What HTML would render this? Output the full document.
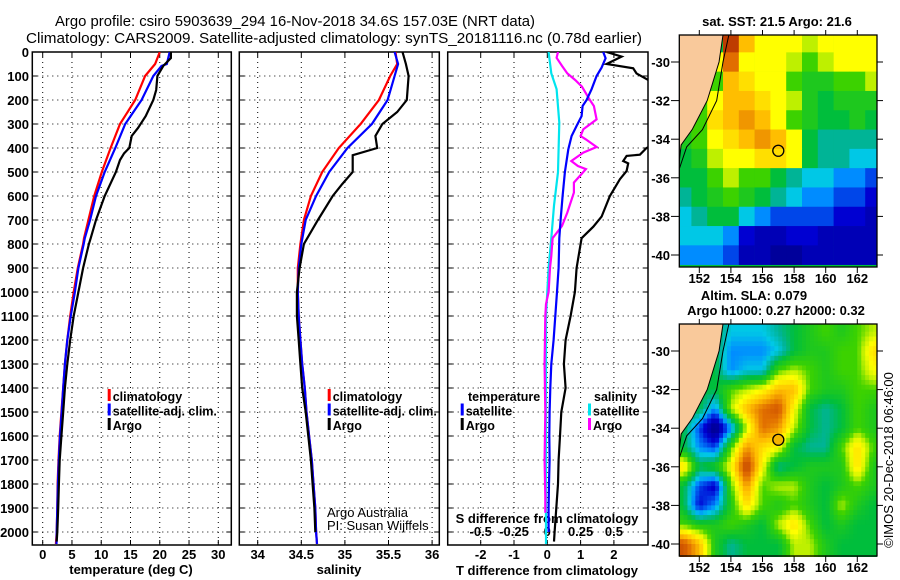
<!DOCTYPE html>
<html><head><meta charset="utf-8"><style>
html,body{margin:0;padding:0;background:#fff;}
svg{display:block;font-family:"Liberation Sans",sans-serif;}
.b{font-weight:bold;font-size:13px;}
.l{font-weight:bold;font-size:12.5px;}
</style></head><body>
<svg id="s" width="900" height="580" viewBox="0 0 900 580" xmlns="http://www.w3.org/2000/svg">
<defs>
<clipPath id="c1"><rect x="32.3" y="52" width="199" height="493"/></clipPath>
<clipPath id="c2"><rect x="239.3" y="52" width="200" height="493"/></clipPath>
<clipPath id="c3"><rect x="447.7" y="52" width="200.3" height="493"/></clipPath>
<clipPath id="cm1"><rect x="679.3" y="35" width="197.7" height="232"/></clipPath>
<clipPath id="cm2"><rect x="679.3" y="324" width="197.7" height="233"/></clipPath>
</defs>
<text x="295" y="26" font-size="15" text-anchor="middle" textLength="480" lengthAdjust="spacingAndGlyphs">Argo profile: csiro 5903639_294 16-Nov-2018 34.6S 157.03E (NRT data)</text>
<text x="334" y="43" font-size="15" text-anchor="middle" textLength="616" lengthAdjust="spacingAndGlyphs">Climatology: CARS2009. Satellite-adjusted climatology: synTS_20181116.nc (0.78d earlier)</text>
<g id="g"></g>
</svg>
<script>
// ---- profile data (depth in m) ----
const tDepthA=[0,25,58,100,158,200,267,316,350,400,422,450,500,600,700,776,800,900,1000,1100,1200,1300,1400,1500,1600,1700,1800,1900,2000,2040];
const tArgo=[21.9,21.9,20.6,19.6,19.4,18.9,17.6,16.3,15.2,14.8,13.9,13.2,12.5,10.6,9.1,8.2,7.9,6.9,6.1,5.3,4.7,4.2,3.8,3.5,3.2,2.9,2.76,2.65,2.5,2.4];
const tDepthC=[0,50,100,200,300,400,500,600,700,776,800,900,1000,1100,1200,1300,1400,1500,1600,1700,1800,1900,2000,2050];
const tClim=[20.0,19.2,17.5,15.8,13.2,11.6,10.1,8.8,7.8,7.05,6.9,6.0,5.3,4.7,4.2,3.8,3.5,3.2,2.9,2.7,2.55,2.5,2.4,2.25];
const tDepthS=[0,50,58,100,200,300,400,500,600,700,776,800,900,1000,1100,1200,1300,1400,1500,1600,1700,1800,1900,2000,2050];
const tSat=[21.7,21.2,20.3,18.9,16.9,14.1,12.4,10.6,9.1,8.1,7.2,7.0,6.1,5.5,4.8,4.2,3.8,3.5,3.25,2.95,2.75,2.6,2.5,2.4,2.35];
const sDepthA=[0,50,100,200,250,300,350,400,430,500,550,600,700,800,900,1000,1100,1200,1300,1400,1500,1600,1700,1800,1900,2000];
const sArgo=[35.66,35.70,35.73,35.71,35.60,35.43,35.35,35.37,35.09,35.09,34.97,34.86,34.69,34.53,34.48,34.45,34.45,34.47,34.49,34.51,34.55,34.58,34.61,34.63,34.65,34.66];
const sDepthC=[0,50,100,200,300,400,500,600,700,800,900,1000,1100,1200,1300,1400,1500,1600,1700,1800,1900,2000,2050];
const sClim=[35.58,35.60,35.52,35.39,35.18,34.93,34.74,34.61,34.53,34.49,34.46,34.46,34.47,34.49,34.51,34.54,34.56,34.59,34.62,34.64,34.66,34.67,34.68];
const sSat=[35.57,35.61,35.57,35.49,35.31,35.03,34.82,34.67,34.55,34.50,34.47,34.46,34.47,34.49,34.51,34.54,34.56,34.59,34.62,34.64,34.66,34.67,34.68];
const dDepthA=[0,19,50,68,89,130,200,300,380,400,428,433,454,464,496,530,600,686,728,776,800,900,1000,1100,1200,1300,1400,1500,1600,1700,1800,1900,2000,2040];
const dTArgo=[1.78,2.23,1.78,2.58,2.68,3.2,3.6,4.2,3.3,2.98,2.78,2.38,2.28,2.43,2.38,2.18,1.88,1.63,1.38,1.03,1.0,0.88,0.83,0.7,0.55,0.5,0.55,0.42,0.38,0.34,0.32,0.27,0.22,0.2];
const dDepthS=[0,26,65,100,155,200,225,267,308,350,406,500,600,700,776,900,1000,1100,1200,1300,1400,1500,1600,1700,1800,1900,2000];
const dTSat=[1.68,1.75,1.63,1.48,1.33,1.18,1.06,1.03,0.88,0.73,0.63,0.53,0.46,0.4,0.36,0.34,0.29,0.24,0.19,0.12,0.09,0.07,0.06,0.07,0.05,0.04,0.04];
const sdDepthS=[0,89,155,294,500,640,776,900,1000,1100,1400,1700,2000,2050];
const dSSat=[0.01,0.03,0.07,0.09,0.08,0.05,0.03,0.01,0,-0.01,-0.01,-0.01,-0.01,-0.01];
const sdDepthA=[0,24,58,89,117,144,172,200,225,281,322,350,364,396,419,454,475,488,544,586,669,725,776,850,900,1000,1050,1100,1300,1500,1700,1850,1920];
const dSArgo=[0.08,0.07,0.11,0.15,0.21,0.26,0.29,0.32,0.35,0.37,0.27,0.25,0.29,0.37,0.27,0.18,0.23,0.29,0.2,0.2,0.15,0.11,0.04,0.03,0.02,0.01,-0.01,-0.015,-0.02,-0.015,-0.02,-0.015,-0.015];
// ---- axis ticks ----
const depthTicks=[0,100,200,300,400,500,600,700,800,900,1000,1100,1200,1300,1400,1500,1600,1700,1800,1900,2000];
const tTicks=[0,5,10,15,20,25,30];
const sTicks=[34,34.5,35,35.5,36];
const dTicks=[-2,-1,0,1,2];
const dsTicks=[-0.5,-0.25,0,0.25,0.5];
const dsTickLabels=["-0.5","-0.25","0","0.25","0.5"];
const lonTicks=[152,154,156,158,160,162];
const latTicks=[-30,-32,-34,-36,-38,-40];
// ---- map grids (lat -29..-40 rows, lon 151..163 cols), colour index 0..10, -1 = land ----
const sstGrid=[
[-1,-1,-1,9,7,6,6,6,5.5,6,6,6,6],
[-1,-1,6,8,6,6,6,5.5,5,5.5,6,6,6],
[-1,-1,5,7,6.5,6,6,5,4.5,4.5,5,5,5.5],
[-1,5,6,7,7,6.5,6,5.5,4.5,4,4.5,4.5,4.5],
[-1,5,6.5,7,7.5,7,6,5,4.5,4,4,4.5,4],
[4.5,5,6,6.5,7,7.5,7,6,4,3.5,3.5,3.5,3.5],
[4,4.5,5.5,6,6,6.5,6.5,6,4,3.5,3.5,3,3],
[4,4,5,5.5,5,5,4,3.5,3,3,2.5,2.5,2],
[3.5,4,4.5,5,4.5,4,3.5,3,2.5,2.5,2,2,1.5],
[3,3.5,4,4,3,2.5,2,2,2,2,1.5,1.5,1],
[3,3,3,2.5,1.5,1,1,1.5,1.5,1,1,1,1],
[2.5,2.5,2.5,2,1,1,0.5,0.5,1,1,1,1,1]];
const slaGrid=[
[4,4,4,3,3,3,3.5,4,4.5,5,4.5,5,5.5],
[4,4,4,2.5,2.5,2.5,3,4,4.5,4.5,5,5,6.5],
[4,4,4,2.5,3,3,5,5.5,5,4.5,5,5,6],
[4,4,4,5,5.5,6,7,7,5,4.5,4.5,5,5],
[4,4,2.5,5.5,7,8,8.5,6,4,3.5,4,5,4.5],
[4,2,0,2.5,5.5,8,7.5,5.5,4,3.5,4,5,4.5],
[4,2.5,2,5,7.5,6.5,6,4,3.5,3.5,5,6.5,5],
[6.5,4,4.5,6,9,6,3.5,4,4.5,4.5,4.5,6.5,4.5],
[4,2,1.2,5,7.5,5,5.5,5.5,4.5,4,4.5,5,4.5],
[4,1.5,2.5,4.5,6.5,5,4.5,5,4.5,4,5.5,4.5,4],
[5,4.5,4.5,5,4.5,4,5.5,6.5,5,4,4.5,4,4],
[8.5,7,4.5,3.5,4,4,4,5.5,5.5,4.5,4,4,4]];
const gridLats=[-29,-30,-31,-32,-33,-34,-35,-36,-37,-38,-39,-40];
const gridLons=[151,152,153,154,155,156,157,158,159,160,161,162,163];
const coastLon=[153.5,153.25,152.5,151.55,150.85,150.7];
const coastLat=[-28.6,-30,-32,-33.5,-34.3,-35.4];
const shelfLon=[153.87,153.5,153.1,152.2,151.2,150.75];
const shelfLat=[-28.6,-30,-32,-33.5,-34.4,-35.5];
const argoLon=157.0, argoLat=-34.6;

const NS="http://www.w3.org/2000/svg";
const G=document.getElementById('g');
function mk(tag,attrs,parent){const e=document.createElementNS(NS,tag);for(const k in attrs)e.setAttribute(k,attrs[k]);(parent||G).appendChild(e);return e;}
const yD=d=>52+0.24*d;
const xT=t=>42.7+5.853*t;
const xS=s=>257.7+87.2*(s-34);
const xD=t=>547.3+33.3*t;
const xDS=s=>547.3+133.2*s;

function panel(x0,x1,xs,ticks,name){
  const g=mk('g',{});
  
  
  depthTicks.forEach(d=>{if(d>0){const l=mk('line',{x1:x0,x2:x1,y1:yD(d),y2:yD(d),stroke:'#000','stroke-width':1,'stroke-dasharray':'1,4'},g);
    }
    mk('line',{x1:x0,x2:x0+5,y1:yD(d),y2:yD(d),stroke:'#000'},g);mk('line',{x1:x1-5,x2:x1,y1:yD(d),y2:yD(d),stroke:'#000'},g);});
  ticks.forEach(v=>{const x=xs(v);const l=mk('line',{x1:x,x2:x,y1:52,y2:545,stroke:'#000','stroke-width':1,'stroke-dasharray':'1,4'},g);
    
    mk('line',{x1:x,x2:x,y1:52,y2:57,stroke:'#000'},g);mk('line',{x1:x,x2:x,y1:540,y2:545,stroke:'#000'},g);});
  const r=mk('rect',{x:x0,y:52,width:x1-x0,height:493,fill:'none',stroke:'#000','stroke-width':1.5},g);
  
  return g;
}
function series(ds,vs,xs,color,clip,name){
  const pts=ds.map((d,i)=>xs(vs[i]).toFixed(1)+','+yD(d).toFixed(1)).join(' ');
  const p=mk('polyline',{points:pts,fill:'none',stroke:color,'stroke-width':2.2,'clip-path':'url(#'+clip+')'});
  
  
}
function txt(x,y,s,cls,anchor,name,extra){
  const t=mk('text',Object.assign({x:x,y:y,'text-anchor':anchor||'start'},extra||{}));
  if(cls)t.setAttribute('class',cls);
  t.textContent=s;
  
  
  return t;
}
function legend(x,y,color,label,name){
  const r=mk('rect',{x:x,y:y-12,width:3,height:12,fill:color});
  
  
  txt(x+5,y,label,'l','start',name+'-label');
}
// panels
panel(32.3,231.3,xT,tTicks,'temperature-panel');
panel(239.3,439.3,xS,sTicks,'salinity-panel');
panel(447.7,648,xD,dTicks,'difference-panel');
depthTicks.forEach(d=>txt(29,yD(d)+5,String(d),'b','end','depth-tick-label'));
tTicks.forEach(v=>txt(xT(v),559,String(v),'b','middle','temperature-tick-label'));
sTicks.forEach(v=>txt(xS(v),559,String(v),'b','middle','salinity-tick-label'));
dTicks.forEach(v=>txt(xD(v),559,String(v),'b','middle','t-diff-tick-label'));
dsTicks.forEach((v,i)=>txt(xDS(v),536,dsTickLabels[i],'b','middle','s-diff-tick-label'));
txt(131,574,'temperature (deg C)','b','middle','temperature-axis-title');
txt(339,574,'salinity','b','middle','salinity-axis-title');
txt(547,575,'T difference from climatology','b','middle','t-diff-axis-title');
txt(547,523,'S difference from climatology','b','middle','s-diff-axis-title');
// series
series(tDepthC,tClim,xT,'#ff0000','c1','temp-climatology-line');
series(tDepthS,tSat,xT,'#0000ff','c1','temp-satellite-line');
series(tDepthA,tArgo,xT,'#000000','c1','temp-argo-line');
series(sDepthC,sClim,xS,'#ff0000','c2','sal-climatology-line');
series(sDepthC,sSat,xS,'#0000ff','c2','sal-satellite-line');
series(sDepthA,sArgo,xS,'#000000','c2','sal-argo-line');
series(sdDepthS,dSSat,xDS,'#00e5ee','c3','sdiff-satellite-line');
series(sdDepthA,dSArgo,xDS,'#ff00ff','c3','sdiff-argo-line');
series(dDepthS,dTSat,xD,'#0000ff','c3','tdiff-satellite-line');
series(dDepthA,dTArgo,xD,'#000000','c3','tdiff-argo-line');
// legends
legend(107.7,401,'#ff0000','climatology','legend-climatology');
legend(107.7,415.5,'#0000ff','satellite-adj. clim.','legend-satellite');
legend(107.7,430,'#000000','Argo','legend-argo');
legend(327.7,401,'#ff0000','climatology','legend2-climatology');
legend(327.7,415.5,'#0000ff','satellite-adj. clim.','legend2-satellite');
legend(327.7,430,'#000000','Argo','legend2-argo');
txt(468,401,'temperature','l','start','legend-temperature-heading');
legend(460.7,415.5,'#0000ff','satellite','legend-tdiff-satellite');
legend(460.7,430,'#000000','Argo','legend-tdiff-argo');
txt(594,401,'salinity','l','start','legend-salinity-heading');
legend(588,415.5,'#00e5ee','satellite','legend-sdiff-satellite');
legend(588,430,'#ff00ff','Argo','legend-sdiff-argo');
txt(327,517,'Argo Australia',null,'start','credit-line-1',{'font-size':13});
txt(327,530,'PI: Susan Wijffels',null,'start','credit-line-2',{'font-size':13});

// ---- maps ----
const stops=[[0,[0,0,127]],[1.5,[0,0,210]],[2.5,[0,140,255]],[3,[0,200,230]],[3.5,[0,180,150]],[4,[0,190,60]],[5,[60,210,0]],[5.5,[190,240,0]],[6,[255,255,0]],[7,[255,190,0]],[8,[225,110,0]],[9,[190,60,0]],[10,[160,20,0]]];
function cmap(v){if(v<=0)return 'rgb(0,0,127)';for(let i=1;i<stops.length;i++){if(v<=stops[i][0]){const a=stops[i-1],b=stops[i],f=(v-a[0])/(b[0]-a[0]);return 'rgb('+a[1].map((c,k)=>Math.round(c+f*(b[1][k]-c))).join(',')+')';}}return 'rgb(160,20,0)';}
function sample(grid,lon,lat){
  let fc=Math.min(Math.max(lon-151,0),12), fr=Math.min(Math.max(-29-lat,0),11);
  const c0=Math.floor(fc),r0=Math.floor(fr),c1=Math.min(c0+1,12),r1=Math.min(r0+1,11);
  const a=fc-c0,b=fr-r0;
  const g=(r,c)=>grid[r][c]<0?4:grid[r][c];
  return g(r0,c0)*(1-a)*(1-b)+g(r0,c1)*a*(1-b)+g(r1,c0)*(1-a)*b+g(r1,c1)*a*b;
}
function map(y0,grid,clip,smooth,name){
  const xL=lon=>699.3+15.8*(lon-152);
  const yL=lat=>(y0+27)+19.3*(-30-lat);
  const g=mk('g',{'clip-path':'url(#'+clip+')'});
  
  
  mk('rect',{x:679,y:y0,width:198,height:233,fill:cmap(4)},g);
  if(smooth){
    const st=0.25;
    for(let lat=-28.5;lat>-40.7;lat-=st){for(let lon=150.75;lon<163.3;lon+=st){
      const v=sample(grid,lon+st/2,lat-st/2);
      const cell=mk('rect',{x:xL(lon).toFixed(2),y:yL(lat).toFixed(2),width:15.8*st+0.4,height:19.3*st+0.4,fill:cmap(v)},g);
      
      
    }}
  } else {
    grid.forEach((row,r)=>row.forEach((v,c)=>{
      const x=xL(gridLons[c]-0.5),y=yL(gridLats[r]+0.5);
      const cell=mk('rect',{x:x,y:y-(r==0?20:0),width:16.1,height:19.6+(r==0?20:0),fill:v<0?cmap(4):cmap(v)},g);
      
      
    }));
  }
  let pts=coastLon.map((lo,i)=>xL(lo)+','+yL(coastLat[i])).join(' ');
  pts+=' 670,'+yL(-35.4)+' 670,'+(y0-5);
  const land=mk('polygon',{points:pts,fill:'#f9c99b'},g);
  
  const cl=mk('polyline',{points:coastLon.map((lo,i)=>xL(lo)+','+yL(coastLat[i])).join(' '),fill:'none',stroke:'#000','stroke-width':1},g);
  
  const sh=mk('polyline',{points:shelfLon.map((lo,i)=>xL(lo)+','+yL(shelfLat[i])).join(' '),fill:'none',stroke:'#000','stroke-width':1},g);
  
  const dot=mk('circle',{cx:xL(argoLon),cy:yL(argoLat),r:5.5,fill:smooth?'#f5b400':'none',stroke:'#000','stroke-width':1.3});
  
  const fr=mk('rect',{x:679.3,y:y0,width:197.7,height:232,fill:'none',stroke:'#000','stroke-width':1.3});
  
  lonTicks.forEach(l=>{mk('line',{x1:xL(l),x2:xL(l),y1:y0-5,y2:y0,stroke:'#000'});mk('line',{x1:xL(l),x2:xL(l),y1:y0+232,y2:y0+238,stroke:'#000'});
    txt(xL(l),y0+248,String(l),'b','middle','lon-tick-label',{'font-size':14});});
  latTicks.forEach(l=>{mk('line',{x1:671,x2:679,y1:yL(l),y2:yL(l),stroke:'#000'});mk('line',{x1:877,x2:883,y1:yL(l),y2:yL(l),stroke:'#000'});
    txt(670,yL(l)+5,String(l),'b','end','lat-tick-label',{'font-size':14});});
}
map(35,sstGrid,'cm1',false,'sst-map');
map(324,slaGrid,'cm2',true,'sla-map');
txt(777,26,'sat. SST: 21.5 Argo: 21.6','b','middle','sst-map-title');
txt(754,300,'Altim. SLA: 0.079','b','middle','sla-map-title');
txt(776,315,'Argo h1000: 0.27 h2000: 0.32','b','middle','sla-map-subtitle');
txt(0,0,'©IMOS 20-Dec-2018 06:46:00',null,'middle','imos-timestamp',{'font-size':13,transform:'translate(893,460) rotate(-90)'});
</script>
</body></html>
